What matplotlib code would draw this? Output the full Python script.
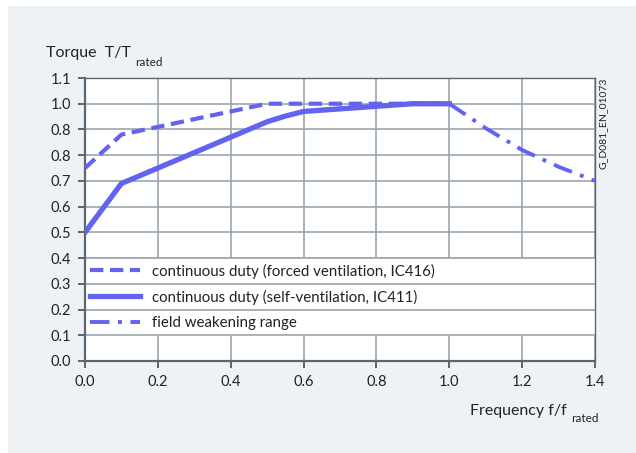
import matplotlib.pyplot as plt
from matplotlib.patches import Rectangle

plt.rcParams['font.family'] = ['Lato', 'DejaVu Sans']

# forced ventilation (IC416)
f_forced = [0.0, 0.1, 0.5, 1.0]
t_forced = [0.75, 0.88, 1.0, 1.0]

# self-ventilation (IC411)
f_self = [0.0, 0.1, 0.5, 0.55, 0.6, 0.9, 1.0]
t_self = [0.5, 0.69, 0.93, 0.952, 0.97, 1.0, 1.0]

# field weakening
f_weak = [1.0, 1.1, 1.2, 1.3, 1.4]
t_weak = [1.0, 0.905, 0.82, 0.755, 0.70]

labels = ["continuous duty (forced ventilation, IC416)",
          "continuous duty (self-ventilation, IC411)",
          "field weakening range"]

xticks = [0.0, 0.2, 0.4, 0.6, 0.8, 1.0, 1.2, 1.4]
yticks = [0.0, 0.1, 0.2, 0.3, 0.4, 0.5, 0.6, 0.7, 0.8, 0.9, 1.0, 1.1]
ytick_labels = ["0.0", "0.1", "0.2", "0.3", "0.4", "0.5", "0.6", "0.7",
                "0.8", "0.8", "1.0", "1.1"]

line_color = "#6363f2"
grid_color = "#9aa6ae"
text_color = "#222222"
panel_color = "#eef2f5"

fig = plt.figure(figsize=(6.36, 4.53), dpi=100)
fig.patch.set_facecolor("white")
panel = Rectangle((8 / 636, 0), 1, 1 - 6 / 453, transform=fig.transFigure,
                  facecolor=panel_color, edgecolor="none", zorder=-5)
fig.add_artist(panel)

ax = fig.add_axes([85 / 636, 92 / 453, 510 / 636, 283 / 453])
ax.set_zorder(2)
ax.set_facecolor("white")
ax.set_axisbelow(True)

ax.plot(f_forced, t_forced, color=line_color, lw=3.0, ls=(0, (3.2, 1.6)),
        solid_capstyle="butt", dash_capstyle="butt", label=labels[0], zorder=3)
ax.plot(f_self, t_self, color=line_color, lw=3.8, solid_joinstyle="round",
        label=labels[1], zorder=3)
ax.plot(f_weak, t_weak, color=line_color, lw=2.8, ls=(0, (5, 2.2, 1, 2.2)),
        label=labels[2], zorder=3)

ax.set_xlim(0, 1.4)
ax.set_ylim(0, 1.1)
ax.set_xticks(xticks)
ax.set_xticklabels([f"{x:.1f}" for x in xticks])
ax.set_yticks(yticks)
ax.set_yticklabels(ytick_labels)
ax.grid(True, color=grid_color, lw=1.2)

# legend band: hide vertical grid lines, keep horizontal ones
ax.axhspan(0.1, 0.4, color="white", zorder=1)
for t in yticks:
    if 0.1 <= t <= 0.4:
        ax.axhline(t, color=grid_color, lw=1.2, zorder=1.1)

leg = ax.legend(loc="upper left", bbox_to_anchor=(0.0, 0.4), bbox_transform=ax.transData,
                frameon=False, fontsize=10.8, handlelength=3.3, handletextpad=0.8,
                labelspacing=0.74, borderaxespad=0, borderpad=0.36)
for txt in leg.get_texts():
    txt.set_color(text_color)

for s in ["left", "bottom"]:
    ax.spines[s].set_color("#5c666e")
    ax.spines[s].set_linewidth(1.6)
for s in ["top", "right"]:
    ax.spines[s].set_color("#5c666e")
    ax.spines[s].set_linewidth(1.0)

ax.tick_params(axis="both", colors="#5c666e", length=5, width=1.4,
               labelsize=10.5, labelcolor=text_color)
ax.tick_params(axis="y", pad=5)
ax.tick_params(axis="x", pad=5)

ylab = fig.text(46 / 636, 1 - 57 / 453, "Torque  T/T", fontsize=11.5, color=text_color,
                ha="left", va="baseline")
fig.add_artist(plt.Annotation("rated", xy=(1, 0), xycoords=ylab, xytext=(3, -4),
                              textcoords="offset points", fontsize=8.5,
                              color=text_color, va="baseline"))

xlab = fig.text(470 / 636, 1 - 415 / 453, "Frequency f/f", fontsize=11.5, color=text_color,
                ha="left", va="baseline")
fig.add_artist(plt.Annotation("rated", xy=(1, 0), xycoords=xlab, xytext=(3, -3),
                              textcoords="offset points", fontsize=8.5,
                              color=text_color, va="baseline"))

fig.text(603 / 636, 1 - 78 / 453, "G_D081_EN_01073", rotation=90, fontsize=7.5,
         color=text_color, ha="center", va="top")

fig.savefig("out.png", dpi=100)
